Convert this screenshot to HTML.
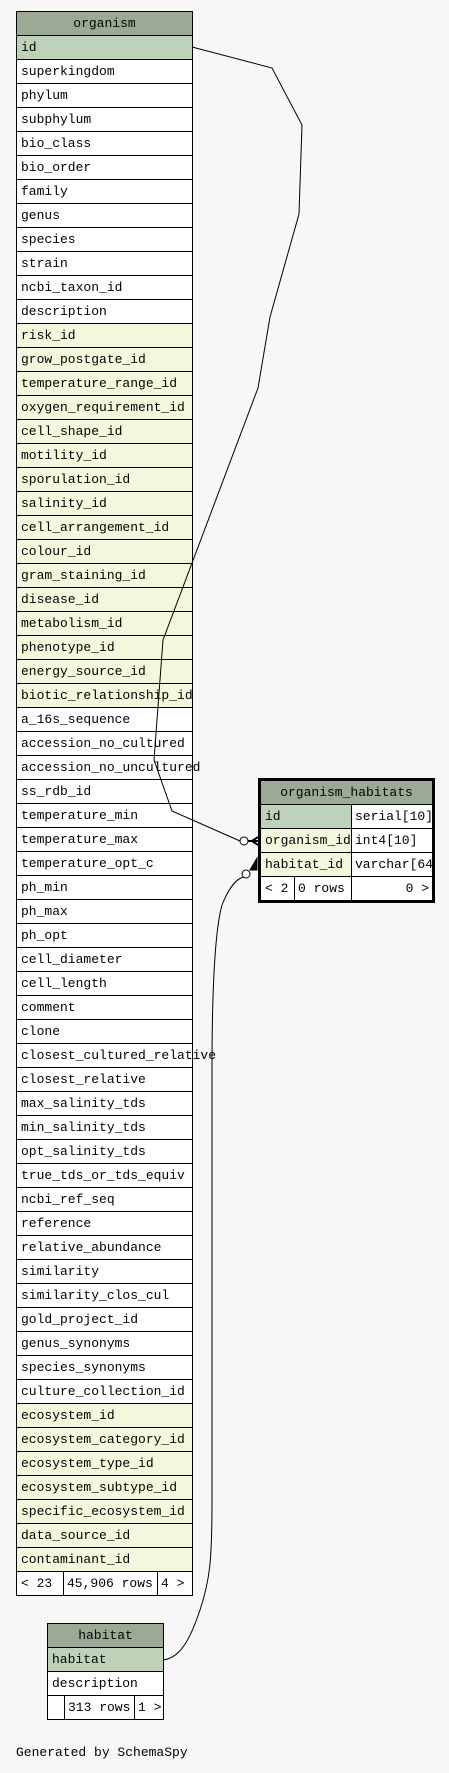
<!DOCTYPE html>
<html><head><meta charset="utf-8"><style>
body{margin:0;background:#f7f7f7;width:449px;height:1773px;position:relative;overflow:hidden;font-family:"Liberation Mono",monospace;font-size:13px;color:#000}
.t{position:absolute;border:1px solid #000;background:#fff}
.r{height:23px;border-top:1px solid #000;line-height:23px;padding-left:4px;white-space:nowrap;position:relative}
.h{background:#9caa95;text-align:center;padding:0;border-top:none}
.pk{background:#bed2b9}.fk{background:#f4f7dc}
.c{position:absolute;top:0;bottom:0;border-left:1px solid #000;padding-left:3px}
</style></head><body>
<div class="t" style="left:16px;top:11px;width:175px">
<div class="r h">organism</div>
<div class="r pk">id</div>
<div class="r">superkingdom</div><div class="r">phylum</div><div class="r">subphylum</div><div class="r">bio_class</div><div class="r">bio_order</div><div class="r">family</div><div class="r">genus</div><div class="r">species</div><div class="r">strain</div><div class="r">ncbi_taxon_id</div><div class="r">description</div>
<div class="r fk">risk_id</div><div class="r fk">grow_postgate_id</div><div class="r fk">temperature_range_id</div><div class="r fk">oxygen_requirement_id</div><div class="r fk">cell_shape_id</div><div class="r fk">motility_id</div><div class="r fk">sporulation_id</div><div class="r fk">salinity_id</div><div class="r fk">cell_arrangement_id</div><div class="r fk">colour_id</div><div class="r fk">gram_staining_id</div><div class="r fk">disease_id</div><div class="r fk">metabolism_id</div><div class="r fk">phenotype_id</div><div class="r fk">energy_source_id</div><div class="r fk">biotic_relationship_id</div>
<div class="r">a_16s_sequence</div><div class="r">accession_no_cultured</div><div class="r">accession_no_uncultured</div><div class="r">ss_rdb_id</div><div class="r">temperature_min</div><div class="r">temperature_max</div><div class="r">temperature_opt_c</div><div class="r">ph_min</div><div class="r">ph_max</div><div class="r">ph_opt</div><div class="r">cell_diameter</div><div class="r">cell_length</div><div class="r">comment</div><div class="r">clone</div><div class="r">closest_cultured_relative</div><div class="r">closest_relative</div><div class="r">max_salinity_tds</div><div class="r">min_salinity_tds</div><div class="r">opt_salinity_tds</div><div class="r">true_tds_or_tds_equiv</div><div class="r">ncbi_ref_seq</div><div class="r">reference</div><div class="r">relative_abundance</div><div class="r">similarity</div><div class="r">similarity_clos_cul</div><div class="r">gold_project_id</div><div class="r">genus_synonyms</div><div class="r">species_synonyms</div><div class="r">culture_collection_id</div>
<div class="r fk">ecosystem_id</div><div class="r fk">ecosystem_category_id</div><div class="r fk">ecosystem_type_id</div><div class="r fk">ecosystem_subtype_id</div><div class="r fk">specific_ecosystem_id</div><div class="r fk">data_source_id</div><div class="r fk">contaminant_id</div>
<div class="r" style="overflow:hidden">&lt; 23<span class="c" style="left:46px">45,906 rows</span><span class="c" style="left:140px;background:#fff;width:35px">4 &gt;</span></div>
</div>

<div class="t" style="left:258px;top:778px;width:171px;border:3px solid #000">
<div class="r h" style="height:23px;margin-top:0">organism_habitats</div>
<div class="r pk">id<span class="c" style="left:90px;right:0;background:#fff">serial[10]</span></div>
<div class="r fk">organism_id<span class="c" style="left:90px;right:0;background:#fff">int4[10]</span></div>
<div class="r fk" style="overflow:hidden">habitat_id<span class="c" style="left:90px;right:0;background:#fff">varchar[64]</span></div>
<div class="r">&lt; 2<span class="c" style="left:33px">0 rows</span><span class="c" style="left:90px;right:0;text-align:right;padding-right:3px">0 &gt;</span></div>
</div>

<div class="t" style="left:47px;top:1623px;width:115px">
<div class="r h">habitat</div>
<div class="r pk">habitat</div>
<div class="r">description</div>
<div class="r"><span class="c" style="left:16px">313 rows</span><span class="c" style="left:86px">1 &gt;</span></div>
</div>

<div style="position:absolute;left:16px;top:1745px;line-height:16px">Generated by SchemaSpy</div>

<svg width="449" height="1773" style="position:absolute;left:0;top:0" fill="none" stroke="#000" stroke-width="1">
<polyline points="192,47 272,68 302,125 299,214 270,317 258,388 163,640 154,760 172,811 240,841"/>
<circle cx="244" cy="841" r="4" fill="#fff"/>
<path d="M248,841 L258,841 M252,841 L258,837 M252,841 L258,845" stroke-width="2"/>
<path d="M163,1660 C180,1658 190,1640 200,1610 C210,1580 212,1560 212,1500 L212,1070 C212,990 215,930 222,905 C230,885 238,878 244,877"/>
<circle cx="246" cy="874" r="4" fill="#fff"/>
<path d="M250,870 L257,858 L257,870 Z" fill="#000"/>
</svg>
</body></html>
